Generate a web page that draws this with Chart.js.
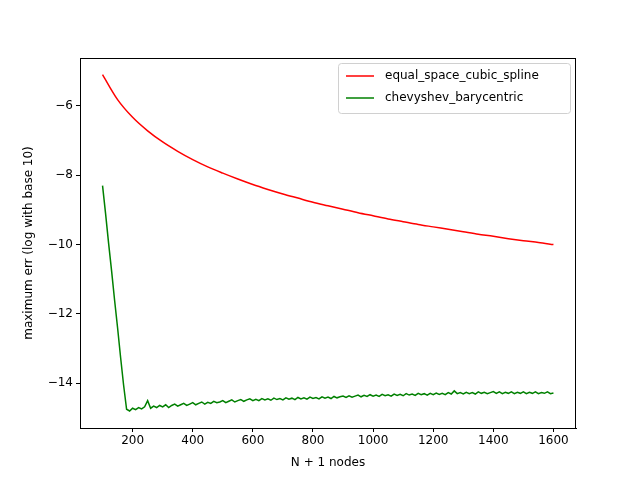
<!DOCTYPE html>
<html><head><script src="https://cdn.jsdelivr.net/npm/chart.js@4"></script>
<style>body{margin:0}#w{width:640px;height:480px}</style></head>
<body><div id="w"><canvas id="c"></canvas></div>
<script>
const redN=[100,150,200,250,300,350,400,450,500,550,600,650,700,750,800,850,900,950,1000,1050,1100,1150,1200,1250,1300,1350,1400,1450,1500,1550,1600];
const redV=[-5.10,-5.82,-6.33,-6.72,-7.04,-7.31,-7.55,-7.76,-7.94,-8.11,-8.27,-8.41,-8.54,-8.66,-8.78,-8.88,-8.98,-9.08,-9.17,-9.26,-9.34,-9.42,-9.49,-9.56,-9.63,-9.70,-9.76,-9.83,-9.89,-9.94,-10.00];
const greenStart=100, greenStep=10;
const greenV=[-8.30,-9.10,-9.95,-10.75,-11.60,-12.40,-13.25,-14.05,-14.75,-14.80,
-14.72,-14.76,-14.70,-14.74,-14.68,-14.50,-14.72,-14.66,-14.70,-14.64,-14.68,-14.62,-14.70,-14.64,-14.60,-14.66,-14.62,-14.58,-14.64,-14.60,
-14.56,-14.62,-14.58,-14.54,-14.60,-14.55,-14.58,-14.52,-14.56,-14.54,-14.50,-14.56,-14.52,-14.48,-14.54,-14.50,-14.47,-14.52,-14.48,-14.45,
-14.50,-14.46,-14.50,-14.44,-14.48,-14.45,-14.49,-14.43,-14.47,-14.44,-14.48,-14.42,-14.46,-14.43,-14.47,-14.41,-14.45,-14.42,-14.46,-14.40,
-14.44,-14.41,-14.45,-14.39,-14.43,-14.40,-14.44,-14.38,-14.42,-14.39,-14.37,-14.41,-14.36,-14.40,-14.37,-14.34,-14.39,-14.35,-14.38,-14.33,
-14.37,-14.34,-14.38,-14.32,-14.36,-14.33,-14.37,-14.31,-14.35,-14.32,-14.36,-14.30,-14.34,-14.31,-14.35,-14.29,-14.33,-14.30,-14.34,-14.29,
-14.33,-14.28,-14.32,-14.29,-14.33,-14.27,-14.31,-14.22,-14.30,-14.27,-14.31,-14.26,-14.30,-14.27,-14.31,-14.25,-14.29,-14.26,-14.30,-14.27,
-14.24,-14.29,-14.25,-14.30,-14.26,-14.29,-14.25,-14.30,-14.26,-14.29,-14.25,-14.30,-14.26,-14.29,-14.25,-14.30,-14.27,-14.29,-14.25,-14.30,-14.28];
const xTicks=[200,400,600,800,1000,1200,1400,1600];
const yTicks=[-14,-12,-10,-8,-6];
const names=['equal_space_cubic_spline','chevyshev_barycentric'];
const cols=['#ff0000','#008000'];
const font={family:'DejaVu Sans',size:12};
const legendPlugin={id:'lg',afterDraw(ch){const c=ch.ctx,a=ch.chartArea;const x0=a.right-238,y0=a.top+5;
c.save();c.strokeStyle='#000';c.lineWidth=1;c.strokeRect(Math.round(a.left)+0.5,Math.round(a.top)+0.5,Math.round(a.right-a.left)-1,Math.round(a.bottom-a.top));
c.fillStyle='rgba(255,255,255,0.8)';c.strokeStyle='#d0d0d0';
c.beginPath();c.roundRect(x0+0.5,y0+0.5,232,50,3);c.fill();c.stroke();
c.font='12px DejaVu Sans';c.textBaseline='middle';
names.forEach((n,i)=>{const y=y0+13+i*22;c.strokeStyle=cols[i];c.lineWidth=1.5;c.beginPath();c.moveTo(x0+8,y);c.lineTo(x0+36,y);c.stroke();c.fillStyle='#000';c.fillText(n,x0+47,y);});
c.restore();}};
const grid={display:true,drawOnChartArea:false,drawTicks:true,tickLength:4,color:'#000'};
new Chart(document.getElementById('c'),{type:'line',
data:{datasets:[
{label:names[0],data:redN.map((n,i)=>({x:n,y:redV[i]})),borderColor:cols[0],borderWidth:1.5,pointRadius:0,tension:0.3},
{label:names[1],data:greenV.map((v,i)=>({x:greenStart+i*greenStep,y:v})),borderColor:cols[1],borderWidth:1.5,pointRadius:0}]},
options:{animation:false,responsive:true,maintainAspectRatio:false,
layout:{padding:{top:58,right:64,left:18,bottom:6}},
plugins:{legend:{display:false},tooltip:{enabled:false}},
scales:{
x:{type:'linear',min:25,max:1675,grid,border:{color:'#000'},
afterBuildTicks:s=>{s.ticks=xTicks.map(v=>({value:v}));},afterFit:s=>{s.height=46;},
ticks:{color:'#000',font,maxRotation:0,padding:2,callback:v=>String(v)},
title:{display:true,text:'N + 1 nodes',color:'#000',font,padding:{top:2}}},
y:{type:'linear',min:-15.29,max:-4.62,grid,border:{color:'#000'},
afterBuildTicks:s=>{s.ticks=yTicks.map(v=>({value:v}));},afterFit:s=>{s.width=62;},
ticks:{color:'#000',font,padding:3,callback:v=>'\u2212'+Math.abs(v)},
title:{display:true,text:'maximum err (log with base 10)',color:'#000',font,padding:{bottom:2}}}}},
plugins:[legendPlugin]});
</script></body></html>
